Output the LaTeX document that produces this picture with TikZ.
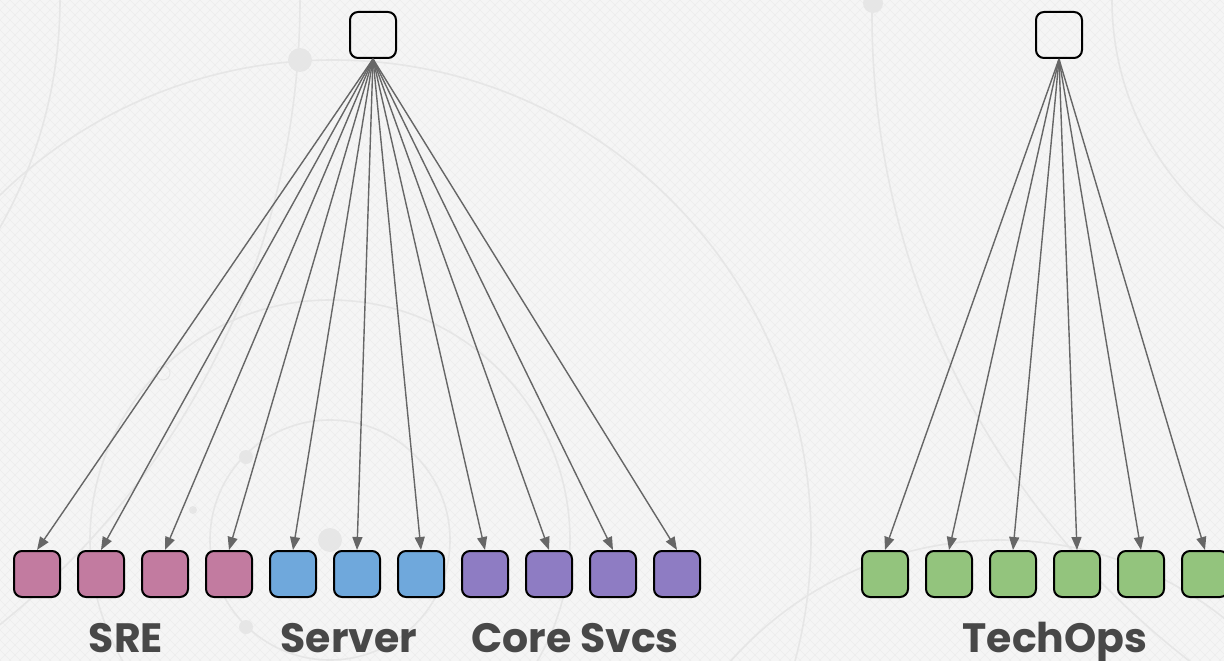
\documentclass[tikz,border=0pt]{standalone}
\usepackage{fontspec}
\newfontfamily\lblfont{Poppins}
\usetikzlibrary{arrows.meta}
\definecolor{bgc}{HTML}{F5F5F5}
\definecolor{gridc}{HTML}{EDEDED}
\definecolor{circc}{HTML}{E6E6E6}
\definecolor{arrc}{HTML}{666666}
\definecolor{pinkc}{HTML}{C27BA0}
\definecolor{bluec}{HTML}{6FA8DC}
\definecolor{purplec}{HTML}{8E7CC3}
\definecolor{greenc}{HTML}{93C47D}
\definecolor{txtc}{HTML}{484848}
\tikzset{
  box/.style={draw=black, line width=2pt, rounded corners=8pt, minimum size=46pt, inner sep=0pt},
  topbox/.style={box},
  arr/.style={draw=arrc, line width=1.4pt, -{Triangle[length=13pt,width=10pt]}},
  lbl/.style={text=txtc, anchor=base, inner sep=0pt, font=\lblfont\bfseries\fontsize{41}{41}\selectfont},
  gline/.style={draw=gridc, line width=0.6pt},
  circ/.style={draw=circc, line width=1.6pt},
  dot/.style={fill=circc}
}
\begin{document}
\begin{tikzpicture}[x=1pt,y=-1pt]
\useasboundingbox (0,0) rectangle (1224,661);
\fill[bgc] (0,0) rectangle (1224,661);
\begin{scope}
\clip (0,0) rectangle (1224,661);
\foreach \i in {-67,...,123} {\draw[gline] ({\i*10},0) -- ({\i*10+661},661);}
\foreach \i in {0,...,189} {\draw[gline] ({\i*10},0) -- ({\i*10-661},661);}
\draw[circ] (333,538) circle (478);
\draw[circ] (330,540) circle (120);
\draw[circ] (330,540) circle (240);
\draw[circ] (1400,0) circle (288);
\draw[circ] (1688,15) circle (816);
\draw[circ] (-400,0) circle (460);
\draw[circ] (-500,0) circle (800);
\draw[circ] (1000,900) circle (360);
\fill[dot] (300,60) circle (12);
\fill[dot] (873,3) circle (10);
\fill[dot] (330,540) circle (12);
\fill[dot] (246,457) circle (7);
\fill[dot] (193,510) circle (4);
\fill[dot] (246,627) circle (7);
\draw[circ, line width=1pt] (163,373) circle (7);
\end{scope}

\node[topbox] (L) at (373,35) {};
\node[topbox] (R) at (1059,35) {};

\foreach \x/\c [count=\i] in {37/pinkc,101/pinkc,165/pinkc,229/pinkc,293/bluec,357/bluec,421/bluec,485/purplec,549/purplec,613/purplec,677/purplec} {
  \node[box, fill=\c] (b\i) at (\x,574) {};
  \draw[arr] (L.south) -- (b\i.north);
}
\foreach \x [count=\i] in {885,949,1013,1077,1141,1205} {
  \node[box, fill=greenc] (g\i) at (\x,574) {};
  \draw[arr] (R.south) -- (g\i.north);
}

\node[lbl] (sre) at (126,652) {SRE};
\node[lbl] (srv) at (349,652) {Server};
\node[lbl] (core) at (575,652) {Core Svcs};
\node[lbl] (tops) at (1055,652) {TechOps};
\end{tikzpicture}
\end{document}
